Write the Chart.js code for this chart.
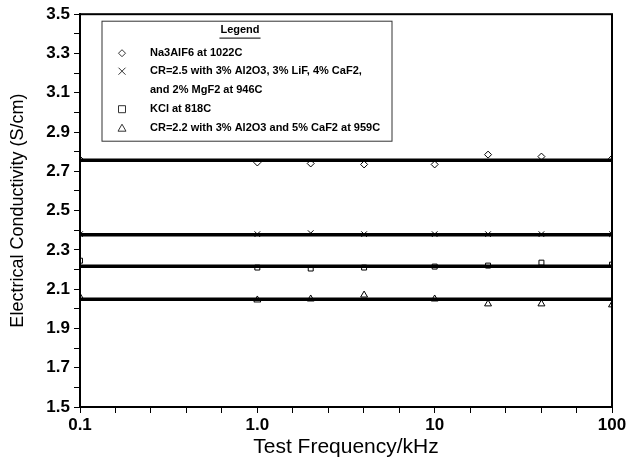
<!DOCTYPE html>
<html>
<head>
<meta charset="utf-8">
<script src="https://cdn.jsdelivr.net/npm/chart.js@4.4.0/dist/chart.umd.min.js"></script>
<style>
  body { margin: 0; background: #fff; }
  #wrap { width: 636px; height: 465px; }
</style>
</head>
<body>
<div id="wrap"><canvas id="chart" width="636" height="465"></canvas></div>
<script>
// test frequencies (kHz)
const freqs = [0.1, 1, 2, 4, 10, 20, 40, 100];

// measured conductivities (S/cm)
const na3alf6 = [2.76, 2.745, 2.74, 2.735, 2.735, 2.785, 2.775, 2.765];
const cr25 = [2.38, 2.38, 2.385, 2.38, 2.38, 2.38, 2.38, 2.38];
const kcl = [2.245, 2.21, 2.205, 2.21, 2.215, 2.22, 2.235, 2.225];
const cr22 = [2.06, 2.045, 2.05, 2.07, 2.05, 2.025, 2.025, 2.02];

// fitted (average) levels, one per series
const fitLevels = [2.757, 2.377, 2.217, 2.048];

const seriesNames = [
    'Na3AlF6 at 1022C',
    'CR=2.5 with 3% Al2O3, 3% LiF, 4% CaF2,',
    'and 2% MgF2 at 946C',
    'KCl at 818C',
    'CR=2.2 with 3% Al2O3 and 5% CaF2 at 959C'
];

const xMajorLabels = { '-1': '0.1', '0': '1.0', '1': '10', '2': '100' };
const xTicksPerDecade = 5;

const toPoints = vals => freqs.map((f, i) => ({ x: f, y: vals[i] }));

function pointSet(vals, style, radius) {
    return {
        data: toPoints(vals),
        pointStyle: style,
        pointRadius: radius,
        pointBorderColor: '#000',
        pointBackgroundColor: 'rgba(0,0,0,0)',
        pointBorderWidth: 1,
        showLine: false,
        order: 0
    };
}

function fitLine(level) {
    return {
        data: [{ x: freqs[0], y: level }, { x: freqs[freqs.length - 1], y: level }],
        showLine: true,
        borderColor: '#000',
        borderWidth: 3.5,
        pointRadius: 0,
        order: 1
    };
}

// draws the frame and the boxed legend
const framePlugin = {
    id: 'frame',
    afterDraw(chart) {
        const { ctx, chartArea: a } = chart;
        ctx.save();
        ctx.strokeStyle = '#000';
        ctx.lineWidth = 2;
        ctx.strokeRect(a.left, a.top, a.right - a.left, a.bottom - a.top);

        const bx = a.left + 22, by = a.top + 7, bw = 290, bh = 120;
        ctx.lineWidth = 1;
        ctx.strokeStyle = '#333';
        ctx.strokeRect(bx, by, bw, bh);

        ctx.fillStyle = '#000';
        ctx.font = 'bold 11px "Liberation Sans", Arial, sans-serif';
        ctx.textBaseline = 'middle';
        ctx.textAlign = 'center';
        const tx = bx + 138, ty = by + 9;
        ctx.fillText('Legend', tx, ty);
        const tw = ctx.measureText('Legend').width;
        ctx.beginPath();
        ctx.moveTo(tx - tw / 2 - 1, ty + 8);
        ctx.lineTo(tx + tw / 2 + 1, ty + 8);
        ctx.lineWidth = 1.2;
        ctx.stroke();

        ctx.textAlign = 'left';
        ctx.font = 'bold 11px "Liberation Sans", Arial, sans-serif';
        const mx = bx + 20, txt = bx + 48;
        const rows = [by + 32, by + 50, by + 69, by + 88, by + 107];
        const styles = ['diamond', 'cross', null, 'square', 'triangle'];
        rows.forEach((ry, i) => {
            ctx.fillText(seriesNames[i], txt, ry);
            const s = styles[i];
            ctx.beginPath();
            ctx.lineWidth = 1;
            if (s === 'diamond') {
                ctx.moveTo(mx, ry - 3.5); ctx.lineTo(mx + 3.5, ry); ctx.lineTo(mx, ry + 3.5); ctx.lineTo(mx - 3.5, ry); ctx.closePath();
            } else if (s === 'cross') {
                ctx.moveTo(mx - 3.5, ry - 3.5); ctx.lineTo(mx + 3.5, ry + 3.5);
                ctx.moveTo(mx + 3.5, ry - 3.5); ctx.lineTo(mx - 3.5, ry + 3.5);
            } else if (s === 'square') {
                ctx.rect(mx - 3.5, ry - 3.5, 7, 7);
            } else if (s === 'triangle') {
                ctx.moveTo(mx, ry - 4); ctx.lineTo(mx + 4, ry + 3); ctx.lineTo(mx - 4, ry + 3); ctx.closePath();
            }
            if (s) ctx.stroke();
        });
        ctx.restore();
    }
};

const ctx = document.getElementById('chart').getContext('2d');
const chart = new Chart(ctx, {
    type: 'scatter',
    data: {
        datasets: [
            fitLine(fitLevels[0]),
            fitLine(fitLevels[1]),
            fitLine(fitLevels[2]),
            fitLine(fitLevels[3]),
            pointSet(na3alf6, 'rectRot', 3.5),
            pointSet(cr25, 'crossRot', 4),
            pointSet(kcl, 'rect', 3.5),
            pointSet(cr22, 'triangle', 4)
        ]
    },
    options: {
        responsive: false,
        animation: false,
        layout: { padding: { top: 13, right: 24, left: 0, bottom: 0 } },
        plugins: { legend: { display: false }, tooltip: { enabled: false } },
        scales: {
            x: {
                type: 'logarithmic',
                min: 0.1,
                max: 100,
                afterFit(scale) { scale.height = 58; },
                // evenly spaced ticks within each decade, as on the original plot
                afterBuildTicks(scale) {
                    const lo = Math.log10(scale.min), hi = Math.log10(scale.max);
                    const ticks = [];
                    for (let i = lo * xTicksPerDecade; i <= hi * xTicksPerDecade + 1e-9; i++) {
                        ticks.push({ value: Math.pow(10, i / xTicksPerDecade) });
                    }
                    scale.ticks = ticks;
                },
                border: { display: true, color: '#000', width: 2 },
                grid: { display: true, drawOnChartArea: false, drawTicks: true, tickLength: 6, color: '#000' },
                ticks: {
                    autoSkip: false,
                    maxRotation: 0,
                    color: '#000',
                    padding: 2,
                    font: { family: '"Liberation Sans", Arial, sans-serif', size: 17, weight: 'bold' },
                    callback(value) {
                        const l = Math.log10(value);
                        if (Math.abs(l - Math.round(l)) < 1e-6) return xMajorLabels[String(Math.round(l))];
                        return '';
                    }
                },
                title: {
                    display: true,
                    text: 'Test Frequency/kHz',
                    color: '#000',
                    padding: { top: 0, bottom: 5 },
                    font: { family: '"Liberation Sans", Arial, sans-serif', size: 21 }
                }
            },
            y: {
                min: 1.5,
                max: 3.5,
                afterFit(scale) { scale.width = 80; },
                border: { display: true, color: '#000', width: 2 },
                grid: { display: true, drawOnChartArea: false, drawTicks: true, tickLength: 6, color: '#000' },
                ticks: {
                    stepSize: 0.1,
                    autoSkip: false,
                    color: '#000',
                    padding: 4,
                    font: { family: '"Liberation Sans", Arial, sans-serif', size: 17, weight: 'bold' },
                    callback(value) {
                        const v = Math.round(value * 10);
                        return v % 2 === 1 ? (v / 10).toFixed(1) : '';
                    }
                },
                title: {
                    display: true,
                    text: 'Electrical Conductivity (S/cm)',
                    color: '#000',
                    padding: { top: 7, bottom: 0 },
                    font: { family: '"Liberation Sans", Arial, sans-serif', size: 18 }
                }
            }
        }
    },
    plugins: [framePlugin]
});
</script>
</body>
</html>
